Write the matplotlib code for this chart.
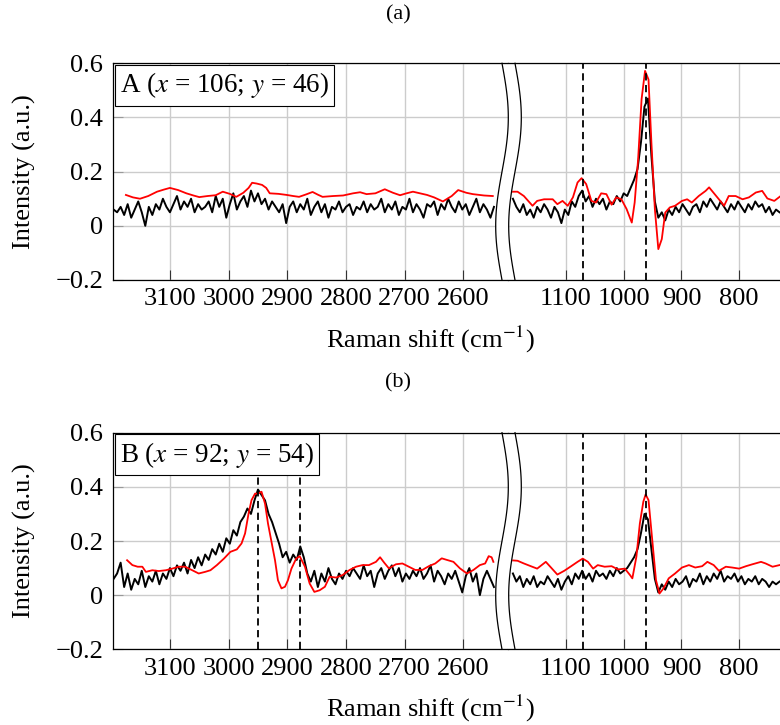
import numpy as np
import matplotlib
matplotlib.use("Agg")
import matplotlib.pyplot as plt

plt.rcParams['font.family'] = ['Liberation Serif', 'DejaVu Serif']
plt.rcParams['mathtext.fontset'] = 'stix'

# ---- digitised spectra (Raman shift in cm^-1, intensity in a.u.) ----
# black = measured spectrum, sampled every 6 cm^-1
black_step = 6
black_left_start = 3196
black_right_start = 1192

black_a_left = [0.06, 0.05, 0.07, 0.04, 0.08, 0.03, 0.06,
                0.09, 0.05, 0.00, 0.07, 0.04, 0.08, 0.06, 0.10, 0.07, 0.05,
                0.08, 0.11, 0.06, 0.09, 0.07, 0.10, 0.05, 0.08, 0.06, 0.07,
                0.09, 0.05, 0.11, 0.07, 0.10, 0.03, 0.08, 0.12, 0.06, 0.09,
                0.11, 0.07, 0.13, 0.09, 0.12, 0.08, 0.10, 0.06, 0.09, 0.07,
                0.05, 0.08, 0.01, 0.07, 0.09, 0.05, 0.08, 0.06, 0.10, 0.04,
                0.07, 0.09, 0.05, 0.08, 0.03, 0.07, 0.06, 0.09, 0.05, 0.07,
                0.08, 0.04, 0.07, 0.06, 0.09, 0.05, 0.08, 0.06, 0.07, 0.10,
                0.05, 0.08, 0.06, 0.09, 0.04, 0.07, 0.06, 0.10, 0.05, 0.08,
                0.06, 0.03, 0.08, 0.07, 0.09, 0.04, 0.08, 0.06, 0.10, 0.07,
                0.05, 0.09, 0.06, 0.08, 0.04, 0.07, 0.10, 0.05, 0.08, 0.06,
                0.03, 0.07]
black_a_right = [0.10, 0.07, 0.05, 0.08, 0.04, 0.06, 0.03, 0.07, 0.05, 0.08,
                 0.06, 0.03, 0.07, 0.05, 0.01, 0.06, 0.04, 0.09, 0.07, 0.11,
                 0.13, 0.09, 0.11, 0.07, 0.10, 0.08, 0.10, 0.06, 0.09, 0.08,
                 0.11, 0.09, 0.12, 0.11, 0.14, 0.17, 0.21, 0.31, 0.44, 0.47,
                 0.26, 0.09, 0.03, 0.05, 0.02, 0.06, 0.04, 0.07, 0.05, 0.08,
                 0.06, 0.04, 0.07, 0.08, 0.05, 0.09, 0.07, 0.10, 0.08, 0.06,
                 0.09, 0.07, 0.05, 0.08, 0.06, 0.09, 0.07, 0.05, 0.08, 0.06,
                 0.09, 0.07, 0.08, 0.05, 0.07, 0.04, 0.06, 0.05]
black_b_left = [0.06, 0.08, 0.12, 0.03, 0.08, 0.02, 0.06,
                0.04, 0.09, 0.03, 0.07, 0.05, 0.09, 0.04, 0.08, 0.06, 0.10,
                0.07, 0.11, 0.09, 0.12, 0.08, 0.13, 0.10, 0.14, 0.11, 0.15,
                0.13, 0.17, 0.15, 0.19, 0.16, 0.21, 0.19, 0.24, 0.22, 0.27,
                0.29, 0.32, 0.30, 0.35, 0.39, 0.37, 0.35, 0.30, 0.27, 0.23,
                0.19, 0.14, 0.16, 0.12, 0.15, 0.13, 0.18, 0.14, 0.08, 0.05,
                0.09, 0.03, 0.08, 0.05, 0.10, 0.06, 0.04, 0.08, 0.06, 0.09,
                0.07, 0.10, 0.08, 0.06, 0.11, 0.07, 0.09, 0.03, 0.08, 0.10,
                0.06, 0.09, 0.11, 0.07, 0.10, 0.05, 0.08, 0.06, 0.09, 0.07,
                0.10, 0.06, 0.08, 0.11, 0.05, 0.09, 0.07, 0.04, 0.08, 0.06,
                0.09, 0.05, 0.01, 0.07, 0.10, 0.05, 0.08, 0.00, 0.06, 0.09,
                0.06, 0.03]
black_b_right = [0.08, 0.05, 0.07, 0.03, 0.06, 0.04, 0.07, 0.03, 0.05, 0.04,
                 0.07, 0.05, 0.03, 0.06, 0.02, 0.05, 0.07, 0.04, 0.08, 0.06,
                 0.09, 0.06, 0.08, 0.05, 0.09, 0.07, 0.08, 0.06, 0.09, 0.07,
                 0.10, 0.08, 0.09, 0.10, 0.12, 0.14, 0.17, 0.23, 0.30, 0.28,
                 0.17, 0.06, 0.01, 0.04, 0.02, 0.05, 0.03, 0.06, 0.04, 0.05,
                 0.07, 0.03, 0.06, 0.05, 0.08, 0.04, 0.07, 0.05, 0.08, 0.06,
                 0.09, 0.05, 0.07, 0.06, 0.08, 0.05, 0.07, 0.04, 0.06, 0.05,
                 0.07, 0.04, 0.06, 0.05, 0.03, 0.05, 0.04, 0.05]

# red = fitted / reference spectrum
red_a_left_wn = [3175, 3163, 3151, 3137, 3122, 3110, 3100, 3086, 3072, 3060,
                 3050, 3036, 3022, 3010, 2998, 2987, 2975, 2966, 2960, 2952,
                 2943, 2936, 2930, 2915, 2901, 2890, 2880, 2868, 2857, 2848,
                 2840, 2822, 2805, 2788, 2776, 2765, 2750, 2734, 2720, 2708,
                 2697, 2686, 2674, 2662, 2650, 2635, 2620, 2609, 2595, 2584,
                 2565, 2550]
red_a_left = [0.114, 0.105, 0.100, 0.110, 0.126, 0.134, 0.140, 0.132, 0.120, 0.112,
              0.106, 0.110, 0.113, 0.126, 0.118, 0.107, 0.122, 0.140, 0.159, 0.156,
              0.151, 0.140, 0.120, 0.118, 0.114, 0.110, 0.107, 0.116, 0.125, 0.115,
              0.107, 0.110, 0.112, 0.120, 0.124, 0.117, 0.120, 0.135, 0.122, 0.113,
              0.120, 0.126, 0.120, 0.114, 0.105, 0.090, 0.110, 0.132, 0.122, 0.117,
              0.112, 0.110]
red_a_right_wn = [1196, 1184, 1173, 1158, 1150, 1138, 1123, 1115, 1106, 1097,
                  1088, 1080, 1073, 1065, 1056, 1048, 1039, 1030, 1021, 1013,
                  1004, 995, 986, 981, 975, 969, 963, 957, 952, 946,
                  940, 934, 928, 920, 911, 899, 890, 882, 870, 858,
                  852, 847, 835, 826, 818, 806, 794, 783, 771, 760,
                  751, 739, 728]
red_a_right = [0.126, 0.126, 0.110, 0.074, 0.092, 0.098, 0.098, 0.080, 0.092, 0.074,
               0.105, 0.160, 0.176, 0.154, 0.092, 0.086, 0.120, 0.117, 0.078, 0.105,
               0.098, 0.062, 0.012, 0.086, 0.246, 0.468, 0.572, 0.540, 0.308, 0.062,
               -0.086, -0.049, 0.049, 0.068, 0.074, 0.092, 0.098, 0.086, 0.110, 0.129,
               0.142, 0.129, 0.098, 0.074, 0.110, 0.110, 0.098, 0.105, 0.123, 0.129,
               0.101, 0.092, 0.110]
red_b_left_wn = [3173, 3164, 3155, 3147, 3141, 3130, 3119, 3107, 3096, 3085,
                 3074, 3062, 3051, 3040, 3031, 3020, 3008, 2997, 2986, 2978,
                 2972, 2966, 2961, 2955, 2950, 2944, 2938, 2933, 2927, 2921,
                 2916, 2910, 2904, 2899, 2893, 2885, 2879, 2870, 2862, 2854,
                 2845, 2836, 2828, 2817, 2806, 2794, 2783, 2772, 2761, 2749,
                 2742, 2735, 2727, 2715, 2704, 2693, 2682, 2670, 2659, 2648,
                 2637, 2628, 2617, 2606, 2594, 2583, 2572, 2563, 2557, 2552,
                 2549]
red_b_left = [0.129, 0.111, 0.105, 0.105, 0.086, 0.092, 0.089, 0.092, 0.098, 0.105,
              0.105, 0.092, 0.080, 0.086, 0.092, 0.111, 0.135, 0.160, 0.169, 0.191,
              0.228, 0.302, 0.351, 0.375, 0.375, 0.382, 0.338, 0.265, 0.197, 0.129,
              0.055, 0.025, 0.031, 0.055, 0.098, 0.135, 0.144, 0.105, 0.043, 0.012,
              0.018, 0.031, 0.068, 0.065, 0.074, 0.093, 0.105, 0.111, 0.111, 0.123,
              0.140, 0.120, 0.099, 0.114, 0.117, 0.105, 0.093, 0.093, 0.107, 0.117,
              0.136, 0.130, 0.123, 0.099, 0.080, 0.093, 0.111, 0.117, 0.144, 0.140,
              0.123]
red_b_right_wn = [1196, 1184, 1173, 1161, 1150, 1135, 1126, 1115, 1103, 1091,
                  1080, 1071, 1062, 1053, 1045, 1033, 1021, 1010, 998, 989,
                  985, 978, 972, 966, 962, 957, 951, 944, 938, 931,
                  922, 911, 899, 887, 876, 864, 855, 844, 835, 823,
                  812, 800, 788, 777, 762, 754, 742, 730]
red_b_right = [0.129, 0.127, 0.117, 0.107, 0.098, 0.123, 0.102, 0.076, 0.090, 0.107,
               0.123, 0.135, 0.123, 0.098, 0.111, 0.105, 0.107, 0.095, 0.098, 0.074,
               0.062, 0.142, 0.265, 0.345, 0.372, 0.351, 0.215, 0.055, 0.006, 0.025,
               0.062, 0.080, 0.102, 0.111, 0.102, 0.107, 0.123, 0.111, 0.090, 0.105,
               0.102, 0.098, 0.107, 0.114, 0.123, 0.117, 0.105, 0.111]

# marked bands and labels
marks_a_left = []
marks_b_left = [2950, 2878]
marks_right = [1070, 961]
label_a = 'A ($x$ = 106; $y$ = 46)'
label_b = 'B ($x$ = 92; $y$ = 54)'

xticks_left = [3100, 3000, 2900, 2800, 2700, 2600]
xticks_right = [1100, 1000, 900, 800]
yticks = [-0.2, 0, 0.2, 0.4, 0.6]
ytick_labels = ['\u22120.2', '0', '0.2', '0.4', '0.6']

W, H = 780, 725
FS = 19
fig = plt.figure(figsize=(W / 100, H / 100), dpi=100)

# layout in pixels
x0, xbreak, x1 = 113, 508, 782
px_left = 58.7   # pixels per 100 cm^-1
px_right = 57.7
xlim_left = (3197, 3197 - (xbreak - x0) * 100 / px_left)
xlim_right = (1100 + (566 - xbreak) * 100 / px_right, 1100 - (x1 - 566) * 100 / px_right)


def style_axes(ax, xticks, left):
    ax.set_ylim(-0.2, 0.6)
    ax.set_yticks(yticks)
    ax.set_xticks(xticks)
    ax.grid(True, color='#cccccc', lw=1.0)
    ax.set_axisbelow(True)
    for s in ax.spines.values():
        s.set_linewidth(0.9)
        s.set_color('black')
    ax.spines['right'].set_visible(False)
    ax.tick_params(axis='x', direction='in', length=7, width=0.8, color='#333333',
                   labelsize=FS, pad=6)
    if left:
        ax.set_yticklabels(ytick_labels)
        ax.tick_params(axis='y', direction='in', length=7, width=0.8, color='#999999',
                       labelsize=FS, pad=7)
    else:
        ax.spines['left'].set_visible(False)
        ax.tick_params(axis='y', length=0, labelleft=False)


def draw_panel(top_px, bottom_px, bl, br, rlw, rl, rrw, rr, marks_left, label):
    bottom = 1 - bottom_px / H
    height = (bottom_px - top_px) / H
    axl = fig.add_axes([x0 / W, bottom, (xbreak - x0) / W, height])
    axr = fig.add_axes([xbreak / W, bottom, (x1 - xbreak) / W, height])

    wn_bl = black_left_start - black_step * np.arange(len(bl))
    wn_br = black_right_start - black_step * np.arange(len(br))

    axl.plot(wn_bl, bl, color='black', lw=1.4, zorder=2)
    axl.plot(rlw, rl, color='red', lw=1.3, zorder=3)
    axr.plot(wn_br, br, color='black', lw=1.4, zorder=2)
    axr.plot(rrw, rr, color='red', lw=1.3, zorder=3)

    for m in marks_left:
        axl.axvline(m, color='black', ls=(0, (4, 2.5)), lw=1.3, zorder=4)
    for m in marks_right:
        axr.axvline(m, color='black', ls=(0, (4, 2.5)), lw=1.3, zorder=4)

    axl.set_xlim(*xlim_left)
    axr.set_xlim(*xlim_right)
    style_axes(axl, xticks_left, True)
    style_axes(axr, xticks_right, False)

    axl.annotate(label, xy=(0, 1), xycoords='axes fraction', xytext=(5, -5),
                 textcoords='offset points', ha='left', va='top', fontsize=FS + 0.5,
                 zorder=10,
                 bbox=dict(boxstyle='square,pad=0.2', fc='white', ec='black', lw=0.8))

    # y label and x label
    fig.text(24 / W, 1 - (top_px + bottom_px) / 2 / H, 'Intensity (a.u.)',
             rotation=90, ha='center', va='center', fontsize=FS)
    fig.text(430 / W, 1 - (bottom_px + 59) / H, 'Raman shift (cm$^{-1}$)',
             ha='center', va='center', fontsize=FS)


draw_panel(63.3, 280, black_a_left, black_a_right, red_a_left_wn, red_a_left,
           red_a_right_wn, red_a_right, marks_a_left, label_a)
draw_panel(432.7, 649.3, black_b_left, black_b_right, red_b_left_wn, red_b_left,
           red_b_right_wn, red_b_right, marks_b_left, label_b)

fig.text(398 / W, 1 - 15 / H, '(a)', ha='center', va='center', fontsize=FS - 3)
fig.text(398 / W, 1 - 383 / H, '(b)', ha='center', va='center', fontsize=FS - 3)

# axis-break marks (white band between two wavy lines)
ov = fig.add_axes([0, 0, 1, 1], zorder=5)
ov.set_xlim(0, W)
ov.set_ylim(H, 0)
ov.axis('off')
for top_px, bottom_px in [(63.3, 280), (432.7, 649.3)]:
    yy = np.linspace(top_px, bottom_px, 100)
    xl = 502 + 6.3 * np.sin(2 * np.pi * (yy - top_px) / (bottom_px - top_px))
    ov.fill_betweenx(yy[1:-1], xl[1:-1], xl[1:-1] + 13, color='white', lw=0)
    ov.plot(xl, yy, color='black', lw=0.9)
    ov.plot(xl + 13, yy, color='black', lw=0.9)

fig.savefig('out.png', dpi=100)
